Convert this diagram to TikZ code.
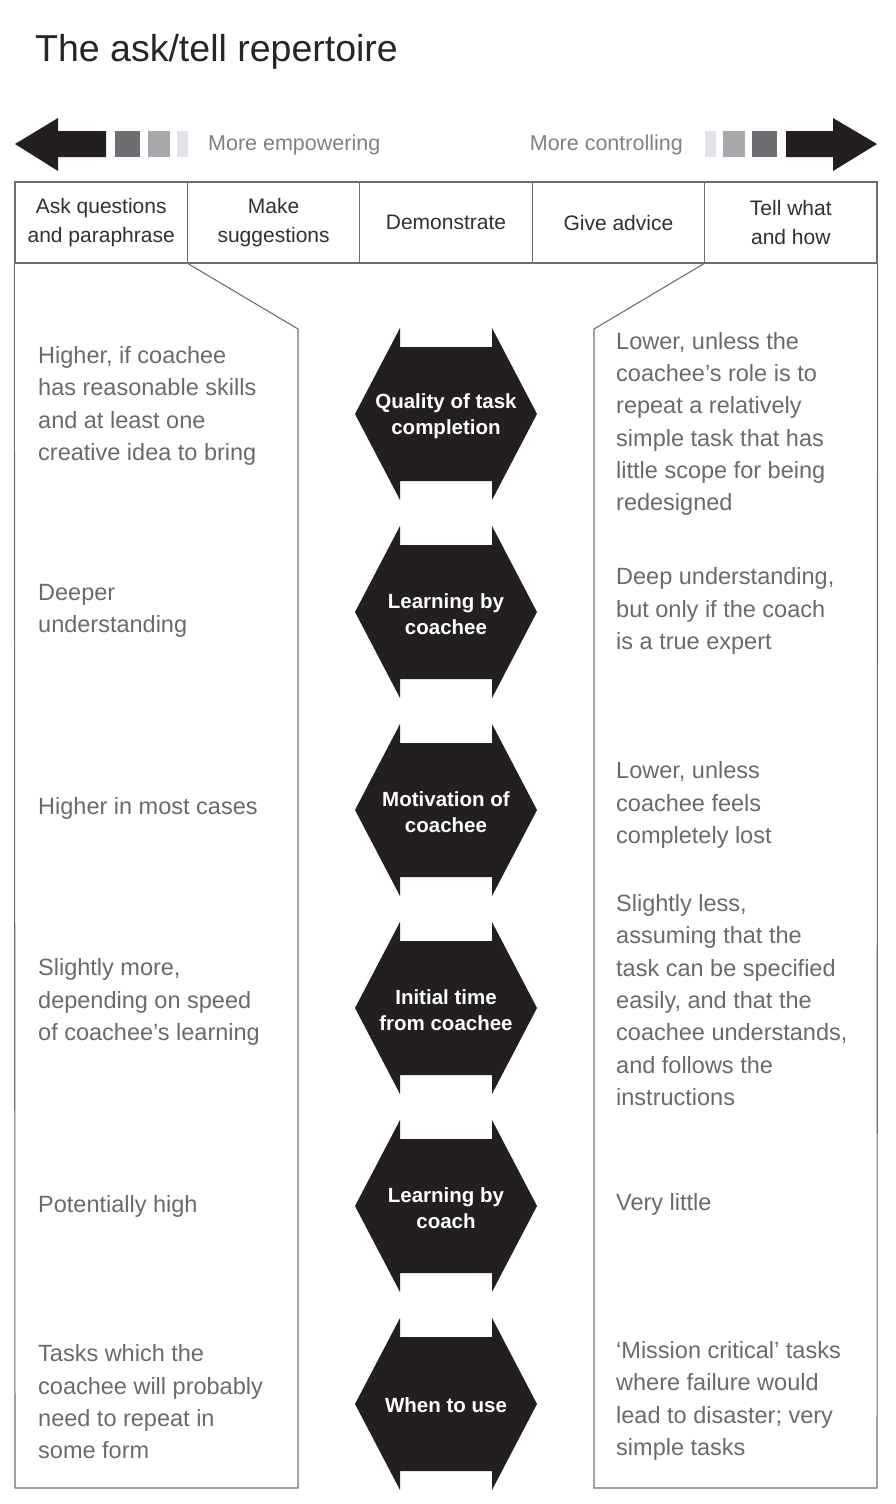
\documentclass[tikz,border=0pt]{standalone}
\usepackage{fontspec}
\setmainfont{Liberation Sans}
\usetikzlibrary{positioning}

\definecolor{hexblack}{HTML}{231F20}
\definecolor{txtgray}{HTML}{6A6A6A}
\definecolor{headgray}{HTML}{303030}
\definecolor{linegray}{HTML}{6E6E6E}
\definecolor{sqdark}{HTML}{6D6E71}
\definecolor{sqmid}{HTML}{A7A9AC}
\definecolor{sqlight}{HTML}{E3E4E9}

\begin{document}
\begin{tikzpicture}[x=1pt,y=-1pt,
    cell/.style={draw=linegray, line width=1.3pt, minimum width=172.4pt, minimum height=81pt, inner sep=0pt, align=center, text=headgray, font=\fontsize{21}{29}\selectfont},
    frame/.style={draw=linegray, line width=1.1pt},
    hexfill/.style={fill=hexblack},
    hexlabel/.style={text=white, align=center, font=\fontsize{20.5}{26}\selectfont\bfseries},
    sidetxt/.style={anchor=west, inner sep=0pt, align=left, text=txtgray, font=\fontsize{23.5}{32.3}\selectfont},
    scaletxt/.style={text=txtgray!85, inner sep=0pt, font=\fontsize{21.5}{26}\selectfont}
]
\useasboundingbox (0,0) rectangle (896,1504);

\node[anchor=base west, inner sep=0pt, text=black!85, font=\fontsize{37.5}{44}\selectfont] (title) at (35,62) {The ask/tell repertoire};

% big arrows and shade squares
\fill[hexfill] (15,144) -- (58,118) -- (58,131) -- (106,131) -- (106,157) -- (58,157) -- (58,171) -- cycle;
\fill[sqdark] (115,131) rectangle (140,157);
\fill[sqmid] (148,131) rectangle (170,157);
\fill[sqlight] (177,131) rectangle (188,157);
\node[scaletxt, anchor=west] (empower) at (208,145) {More empowering};

\fill[hexfill] (877,144) -- (833,118) -- (833,131) -- (786,131) -- (786,157) -- (833,157) -- (833,171) -- cycle;
\fill[sqdark] (752,131) rectangle (777,157);
\fill[sqmid] (723,131) rectangle (745,157);
\fill[sqlight] (705,131) rectangle (716,157);
\node[scaletxt, anchor=east] (control) at (683,145) {More controlling};

% header row
\node[cell] (ask) at (101.2,222.5) {Ask questions\\and paraphrase};
\node[cell] (suggest) at (273.6,222.5) {Make\\suggestions};
\node[cell] (demo) at (446,222.5) {Demonstrate};
\node[cell] (advice) at (618.4,222.5) {Give advice};
\node[cell] (tell) at (790.8,222.5) {Tell what\\and how};

% side panels
\draw[frame] (ask.south west) -- (15,1488) -- (298,1488) -- (298,329) -- (ask.south east);
\draw[frame] (tell.south east) -- (877,1488) -- (594,1488) -- (594,329) -- (tell.south west);

% hexagons
\foreach \cy in {414,612,810,1008,1206,1404}
  \fill[hexfill] (355,\cy) -- (400,\cy-86) -- (400,\cy-67) -- (492,\cy-67) -- (492,\cy-86) -- (537,\cy)
    -- (492,\cy+86) -- (492,\cy+67) -- (400,\cy+67) -- (400,\cy+86) -- cycle;

\node[hexlabel] (quality) at (446,416) {Quality of task\\completion};
\node[hexlabel] (learnee) at (446,614) {Learning by\\coachee};
\node[hexlabel] (motiv) at (446,812) {Motivation of\\coachee};
\node[hexlabel] (inittime) at (446,1010) {Initial time\\from coachee};
\node[hexlabel] (learncoach) at (446,1208) {Learning by\\coach};
\node[hexlabel] (whenuse) at (446,1405) {When to use};

% ask side
\node[sidetxt] (qualityL) at (38,406) {Higher, if coachee\\has reasonable skills\\and at least one\\creative idea to bring};
\node[sidetxt] (learneeL) at (38,611) {Deeper\\understanding};
\node[sidetxt] (motivL) at (38,808) {Higher in most cases};
\node[sidetxt] (inittimeL) at (38,1002) {Slightly more,\\depending on speed\\of coachee’s learning};
\node[sidetxt] (learncoachL) at (38,1206) {Potentially high};
\node[sidetxt] (whenuseL) at (38,1402) {Tasks which the\\coachee will probably\\need to repeat in\\some form};

% tell side
\node[sidetxt] (qualityR) at (616,424) {Lower, unless the\\coachee’s role is to\\repeat a relatively\\simple task that has\\little scope for being\\redesigned};
\node[sidetxt] (learneeR) at (616,611) {Deep understanding,\\but only if the coach\\is a true expert};
\node[sidetxt] (motivR) at (616,805) {Lower, unless\\coachee feels\\completely lost};
\node[sidetxt] (inittimeR) at (616,1000) {Slightly less,\\assuming that the\\task can be specified\\easily, and that the\\coachee understands,\\and follows the\\instructions};
\node[sidetxt] (learncoachR) at (616,1204) {Very little};
\node[sidetxt] (whenuseR) at (616,1401) {‘Mission critical’ tasks\\where failure would\\lead to disaster; very\\simple tasks};
\end{tikzpicture}
\end{document}
